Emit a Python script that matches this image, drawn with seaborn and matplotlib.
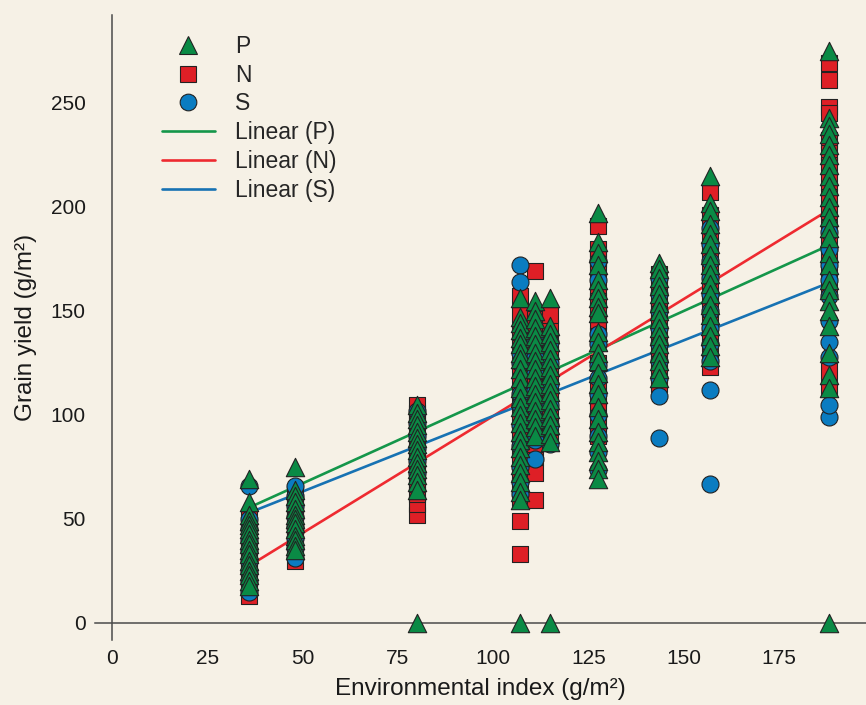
import pandas as pd
import matplotlib.pyplot as plt
from matplotlib.lines import Line2D
import seaborn as sns

# environmental index of each environment (x position of each column)
env_index = [36, 48, 80, 107, 111, 115, 127.5, 143.5, 157, 188]

# grain yield of each group, one list per environment
p_yield = [
    [69, 58, 52, 49, 47, 45, 43, 40, 38, 35, 33, 30, 28, 25, 23, 20, 18],
    [75, 64, 61, 58, 55, 52, 50, 48, 45, 42, 40, 37, 35],
    [0, 105, 101, 98, 95, 92, 89, 86, 83, 80, 77, 74, 71, 68, 64],
    [0, 156, 147, 144, 141, 137, 134, 130, 127, 122, 118, 113, 108, 104, 100,
     96, 92, 88, 84, 80, 76, 72, 68, 63, 59],
    [155, 150, 146, 142, 138, 134, 130, 126, 122, 118, 114, 110, 106, 102, 98, 94, 90],
    [0, 156, 143, 139, 135, 131, 127, 123, 119, 115, 111, 107, 103, 99, 95, 91, 87],
    [197, 183, 178, 172, 165, 160, 156, 152, 149, 140, 135, 130, 126, 120, 115,
     110, 104, 98, 92, 87, 82, 78, 74, 69],
    [173, 170, 166, 162, 158, 154, 150, 146, 142, 138, 134, 130, 126, 122, 118],
    [215, 202, 198, 192, 187, 182, 177, 172, 168, 163, 158, 153, 148, 143, 138, 133, 128],
    [0, 275, 243, 239, 235, 230, 225, 220, 215, 210, 205, 200, 195, 190, 185,
     178, 172, 165, 160, 155, 150, 143, 130, 119, 113],
]
n_yield = [
    [13, 17, 21, 26, 30, 34, 38, 42, 46, 50],
    [30, 34, 38, 42, 46, 50, 54, 58, 62],
    [52, 57, 62, 67, 72, 77, 82, 87, 92, 97, 101, 105],
    [33, 49, 60, 66, 72, 78, 85, 92, 100, 108, 116, 124, 132, 140, 148, 157],
    [59, 72, 80, 86, 92, 98, 104, 110, 116, 122, 128, 134, 140, 146, 169],
    [88, 94, 100, 106, 112, 118, 124, 130, 136, 142, 148],
    [191, 180, 175, 170, 160, 155, 150, 145, 138, 125, 115, 108, 102, 96, 90],
    [115, 120, 126, 132, 138, 144, 150, 156, 162, 168],
    [123, 130, 137, 144, 151, 158, 165, 172, 180, 188, 196, 207],
    [269, 261, 248, 245, 232, 226, 220, 212, 205, 198, 190, 183, 175, 168, 160, 121, 113],
]
s_yield = [
    [15, 20, 25, 30, 35, 40, 45, 50, 66],
    [31, 36, 41, 46, 51, 56, 61, 66],
    [72, 78, 84, 90, 96, 102],
    [172, 164, 130, 125, 110, 105, 95, 85, 75, 68, 62],
    [79, 88, 96, 104, 112, 120, 128, 136],
    [86, 95, 105, 115, 125, 135],
    [174, 165, 139, 134, 124, 118, 110, 100, 90, 82, 73.5],
    [89, 109, 118, 126, 134, 142, 150, 158, 166],
    [67, 112, 126, 134, 142, 150, 158, 166, 174, 182, 190],
    [99, 105, 128, 135, 145, 157, 165, 172, 180, 188],
]

# fitted linear trends, read at both ends of the x range
fit_x = [36, 188]
fit_p = [55.5, 181.5]
fit_n = [27.5, 198.5]
fit_s = [53, 163.5]


def to_frame(yields):
    rows = []
    for x, ys in zip(env_index, yields):
        for y in ys:
            rows.append((x, y))
    return pd.DataFrame(rows, columns=['env', 'grain'])


bg = '#f6f1e6'
col_p, col_n, col_s = '#0a8a45', '#de1f26', '#0a7cc1'
line_p, line_n, line_s = '#14964a', '#ee2a30', '#1772b3'

sns.set_style('white')
plt.rcParams['font.family'] = ['Liberation Sans', 'DejaVu Sans']

fig = plt.figure(figsize=(8.66, 7.05), dpi=100, facecolor=bg)
ax = fig.add_axes([95 / 866, 65 / 705, 771 / 866, 625 / 705])
ax.set_facecolor(bg)

for ys, c in [(fit_p, line_p), (fit_n, line_n), (fit_s, line_s)]:
    sns.lineplot(x=fit_x, y=ys, color=c, linewidth=1.9, ax=ax, zorder=1)

sns.scatterplot(data=to_frame(n_yield), x='env', y='grain', marker='s', s=140,
                color=col_n, edgecolor='#222222', linewidth=0.8, ax=ax, zorder=2)
sns.scatterplot(data=to_frame(s_yield), x='env', y='grain', marker='o', s=150,
                color=col_s, edgecolor='#222222', linewidth=0.8, ax=ax, zorder=3)
sns.scatterplot(data=to_frame(p_yield), x='env', y='grain', marker='^', s=175,
                color=col_p, edgecolor='#222222', linewidth=0.8, ax=ax, zorder=4,
                clip_on=False)

ax.set_xlim(-4.46, 197.8)
ax.set_ylim(-8.2, 292.3)
ax.set_xticks([0, 25, 50, 75, 100, 125, 150, 175])
ax.set_yticks([0, 50, 100, 150, 200, 250])

for side in ['top', 'right']:
    ax.spines[side].set_visible(False)
for side in ['left', 'bottom']:
    ax.spines[side].set_position(('data', 0))
    ax.spines[side].set_color('#4a4a4a')
    ax.spines[side].set_linewidth(1.1)

ax.tick_params(axis='both', direction='out', length=12, width=1.1, color='#4a4a4a',
               labelsize=15, labelcolor='#1a1a1a', pad=7)

ax.set_xlabel('Environmental index (g/m²)', fontsize=17.5, color='#1a1a1a', labelpad=7)
ax.set_ylabel('Grain yield (g/m²)', fontsize=17.5, color='#1a1a1a', labelpad=10)

handles = [
    Line2D([], [], linestyle='none', marker='^', markersize=12.5, markerfacecolor=col_p,
           markeredgecolor='#222222', markeredgewidth=0.8, label='P'),
    Line2D([], [], linestyle='none', marker='s', markersize=11.8, markerfacecolor=col_n,
           markeredgecolor='#222222', markeredgewidth=0.8, label='N'),
    Line2D([], [], linestyle='none', marker='o', markersize=12, markerfacecolor=col_s,
           markeredgecolor='#222222', markeredgewidth=0.8, label='S'),
    Line2D([], [], color=line_p, linewidth=1.9, label='Linear (P)'),
    Line2D([], [], color=line_n, linewidth=1.9, label='Linear (N)'),
    Line2D([], [], color=line_s, linewidth=1.9, label='Linear (S)'),
]
ax.legend(handles=handles, loc='upper left', bbox_to_anchor=(162 / 866, 1 - 35 / 705),
          bbox_transform=fig.transFigure, frameon=False, fontsize=16.5,
          handlelength=2.3, handletextpad=0.9, labelspacing=0.25, borderpad=0,
          borderaxespad=0)

plt.savefig('out.png', dpi=100, facecolor=bg)
